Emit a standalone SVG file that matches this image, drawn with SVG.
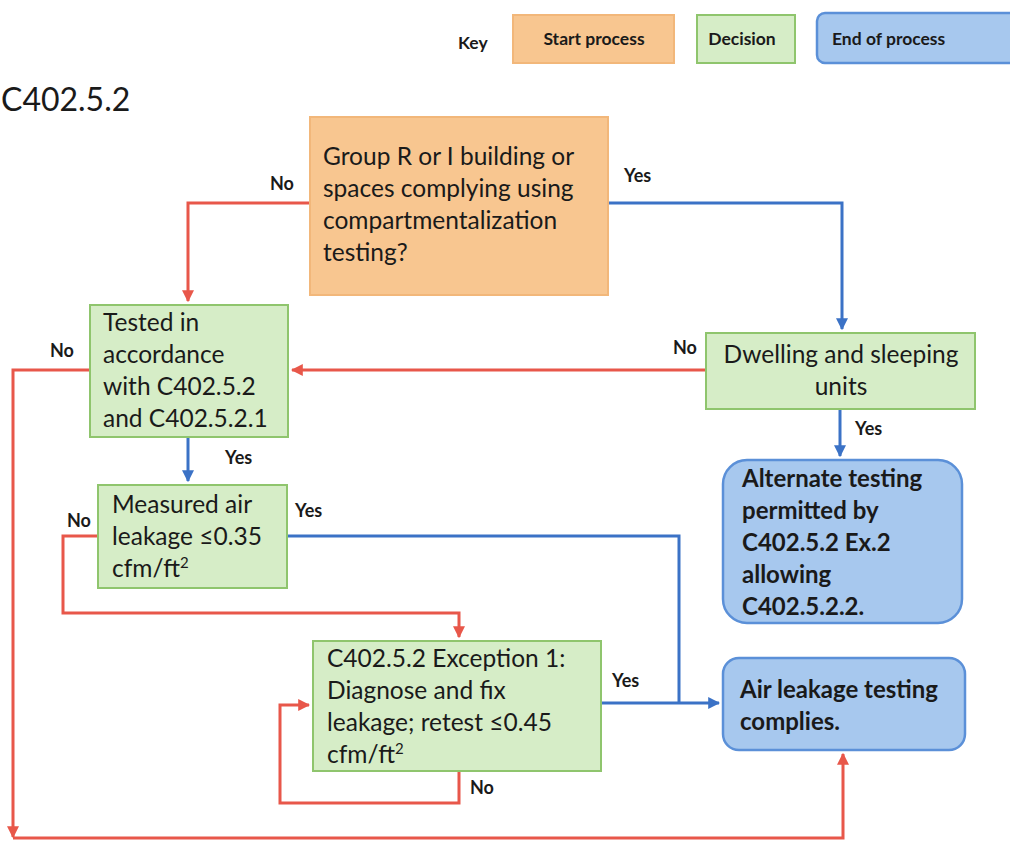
<svg xmlns="http://www.w3.org/2000/svg" width="1010" height="842" viewBox="0 0 1010 842">
<style>
.t{font-family:Lato,"Open Sans",sans-serif;font-size:24.5px;fill:#1a1a1a}
.b{font-family:Lato,"Open Sans",sans-serif;font-size:24px;font-weight:bold;fill:#1a1a1a}
.l{font-family:Lato,"Open Sans",sans-serif;font-size:18px;font-weight:bold;fill:#1a1a1a}
.k{font-family:Lato,"Open Sans",sans-serif;font-size:17.5px;font-weight:bold;fill:#1a1a1a}
.start{fill:#f8c690;stroke:#f2b77a;stroke-width:2}
.dec{fill:#d6edc7;stroke:#8fc56d;stroke-width:2}
.end{fill:#a7c8ee;stroke:#5b90d8;stroke-width:2.5}
.r{fill:none;stroke:#e8574a;stroke-width:3}
.bl{fill:none;stroke:#3b72c6;stroke-width:3}
</style>
<defs>
<marker id="ar" viewBox="0 0 10 10" refX="9" refY="5" markerWidth="4" markerHeight="4" orient="auto"><path d="M0,0L10,5L0,10z" fill="#e8574a"/></marker>
<marker id="ab" viewBox="0 0 10 10" refX="9" refY="5" markerWidth="4" markerHeight="4" orient="auto"><path d="M0,0L10,5L0,10z" fill="#3b72c6"/></marker>
</defs>
<rect width="1010" height="842" fill="#fff"/>
<g id="key">
<text x="458" y="49" class="k" font-size="21">Key</text>
<rect x="513" y="15" width="161" height="48" class="start"/>
<text x="594" y="45" class="k" text-anchor="middle">Start process</text>
<rect x="697" y="15" width="98" height="48" class="dec"/>
<text x="742" y="45" class="k" text-anchor="middle" font-size="16.5">Decision</text>
<rect x="817" y="13" width="210" height="50" rx="8" class="end"/>
<text x="832" y="45" class="k" font-size="18">End of process</text>
</g>
<text x="1" y="111" font-family="Lato,'Open Sans',sans-serif" font-size="32" fill="#1a1a1a">C402.5.2</text>
<g id="connectors">
<path class="r" d="M310,203H188V301" marker-end="url(#ar)"/>
<path class="bl" d="M608,203H842V329" marker-end="url(#ab)"/>
<path class="r" d="M706,370H292" marker-end="url(#ar)"/>
<path class="bl" d="M840,409V456" marker-end="url(#ab)"/>
<path class="r" d="M90,370H13V837" marker-end="url(#ar)"/>
<path class="r" d="M13,838H843V754" marker-end="url(#ar)"/>
<path class="bl" d="M188,437V481" marker-end="url(#ab)"/>
<path class="r" d="M98,536H63V613H459V637" marker-end="url(#ar)"/>
<path class="bl" d="M287,536H679V703"/>
<path class="bl" d="M601,703H719" marker-end="url(#ab)"/>
<path class="r" d="M459,771V803H280V705H309" marker-end="url(#ar)"/>
<text x="270" y="190" class="l">No</text>
<text x="624" y="182" class="l">Yes</text>
<text x="673" y="354" class="l">No</text>
<text x="855" y="435" class="l">Yes</text>
<text x="50" y="357" class="l">No</text>
<text x="225" y="464" class="l">Yes</text>
<text x="67" y="527" class="l">No</text>
<text x="295" y="517" class="l">Yes</text>
<text x="612" y="687" class="l">Yes</text>
<text x="470" y="794" class="l">No</text>
</g>
<g id="n-start">
<rect x="310" y="117" width="298" height="178" class="start"/>
<text class="t"><tspan x="323" y="165">Group R or I building or</tspan><tspan x="323" y="197">spaces complying using</tspan><tspan x="323" y="229">compartmentalization</tspan><tspan x="323" y="261">testing?</tspan></text>
</g>
<g id="n-tested">
<rect x="90" y="305" width="198" height="132" class="dec"/>
<text class="t"><tspan x="103" y="331">Tested in</tspan><tspan x="103" y="363">accordance</tspan><tspan x="103" y="395">with C402.5.2</tspan><tspan x="103" y="427">and C402.5.2.1</tspan></text>
</g>
<g id="n-dwelling">
<rect x="706" y="333" width="269" height="76" class="dec"/>
<text class="t" text-anchor="middle"><tspan x="841" y="363">Dwelling and sleeping</tspan><tspan x="841" y="395">units</tspan></text>
</g>
<g id="n-alternate">
<rect x="723" y="460" width="239" height="163" rx="24" class="end"/>
<text class="b"><tspan x="742" y="487">Alternate testing</tspan><tspan x="742" y="519">permitted by</tspan><tspan x="742" y="551">C402.5.2 Ex.2</tspan><tspan x="742" y="583">allowing</tspan><tspan x="742" y="615">C402.5.2.2.</tspan></text>
</g>
<g id="n-measured">
<rect x="98" y="485" width="189" height="103" class="dec"/>
<text class="t"><tspan x="112" y="513">Measured air</tspan><tspan x="112" y="545">leakage ≤0.35</tspan><tspan x="112" y="577">cfm/ft<tspan dy="-9" font-size="15">2</tspan></tspan></text>
</g>
<g id="n-exception">
<rect x="313" y="641" width="288" height="130" class="dec"/>
<text class="t"><tspan x="327" y="667">C402.5.2 Exception 1:</tspan><tspan x="327" y="699">Diagnose and fix</tspan><tspan x="327" y="731">leakage; retest ≤0.45</tspan><tspan x="327" y="763">cfm/ft<tspan dy="-9" font-size="15">2</tspan></tspan></text>
</g>
<g id="n-complies">
<rect x="723" y="658" width="242" height="92" rx="16" class="end"/>
<text class="b"><tspan x="740" y="698">Air leakage testing</tspan><tspan x="740" y="730">complies.</tspan></text>
</g>
</svg>
